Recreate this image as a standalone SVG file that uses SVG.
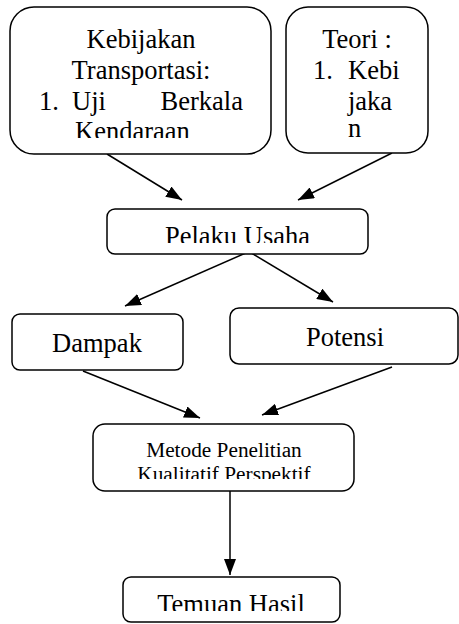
<svg xmlns="http://www.w3.org/2000/svg" width="459" height="624" viewBox="0 0 459 624">
<style>
.box{fill:#fff;stroke:#000;stroke-width:1.5}
.t{font-family:"Liberation Serif","Times New Roman",serif;font-size:26.5px;fill:#000}
.s{font-family:"Liberation Serif","Times New Roman",serif;font-size:21.3px;fill:#000}
.c{stroke:#000;stroke-width:1.5;fill:none;marker-end:url(#ah)}
</style>
<defs>
<marker id="ah" markerWidth="16" markerHeight="12" refX="16" refY="6" orient="auto" markerUnits="userSpaceOnUse">
<path d="M0,0 L16,6 L0,12 z" fill="#000"/>
</marker>
<clipPath id="c1"><rect x="10" y="7" width="262" height="131"/></clipPath>
<clipPath id="c2"><rect x="286" y="7" width="143" height="131"/></clipPath>
<clipPath id="c3"><rect x="107" y="209" width="262" height="34"/></clipPath>
<clipPath id="c4"><rect x="93" y="424" width="262" height="55"/></clipPath>
<clipPath id="c5"><rect x="123" y="576" width="217" height="35"/></clipPath>
</defs>
<rect width="459" height="624" fill="#fff"/>
<g id="connectors">
<line class="c" x1="107" y1="154" x2="182" y2="200"/>
<line class="c" x1="392" y1="153" x2="298" y2="200"/>
<line class="c" x1="248" y1="252" x2="125" y2="306"/>
<line class="c" x1="248" y1="251" x2="333" y2="302"/>
<line class="c" x1="83" y1="371" x2="200" y2="418"/>
<line class="c" x1="392" y1="367" x2="262" y2="415"/>
<line class="c" x1="230" y1="489" x2="230" y2="575"/>
</g>
<g id="kebijakan">
<rect class="box" x="10" y="7" width="261" height="147" rx="24"/>
<g clip-path="url(#c1)">
<text class="t" x="141" y="48" text-anchor="middle">Kebijakan</text>
<text class="t" x="141" y="79" text-anchor="middle">Transportasi:</text>
<text class="t" x="39" y="110">1.</text>
<text class="t" x="72" y="110">Uji</text>
<text class="t" x="243" y="110" text-anchor="end">Berkala</text>
<text class="t" x="75" y="140">Kendaraan</text>
</g>
</g>
<g id="teori">
<rect class="box" x="286" y="7" width="142" height="146" rx="22"/>
<g clip-path="url(#c2)">
<text class="t" x="357" y="48" text-anchor="middle">Teori :</text>
<text class="t" x="313" y="79">1.</text>
<text class="t" x="348" y="79">Kebi</text>
<text class="t" x="348" y="110">jaka</text>
<text class="t" x="348" y="137">n</text>
</g>
</g>
<g id="pelaku">
<rect class="box" x="107" y="209" width="261" height="45" rx="8"/>
<text class="t" x="237.5" y="244.5" text-anchor="middle" clip-path="url(#c3)">Pelaku Usaha</text>
</g>
<g id="dampak">
<rect class="box" x="12" y="314" width="171" height="56" rx="8"/>
<text class="t" x="97" y="352" text-anchor="middle">Dampak</text>
</g>
<g id="potensi">
<rect class="box" x="230" y="308" width="228" height="56" rx="9"/>
<text class="t" x="345" y="346" text-anchor="middle">Potensi</text>
</g>
<g id="metode">
<rect class="box" x="93" y="424" width="261" height="67" rx="12"/>
<g clip-path="url(#c4)">
<text class="s" x="224" y="457" text-anchor="middle">Metode Penelitian</text>
<text class="s" x="224" y="481" text-anchor="middle">Kualitatif Perspektif</text>
</g>
</g>
<g id="temuan">
<rect class="box" x="123" y="577" width="217" height="45" rx="8"/>
<text class="t" x="231" y="612.5" text-anchor="middle" clip-path="url(#c5)">Temuan Hasil</text>
</g>
</svg>
